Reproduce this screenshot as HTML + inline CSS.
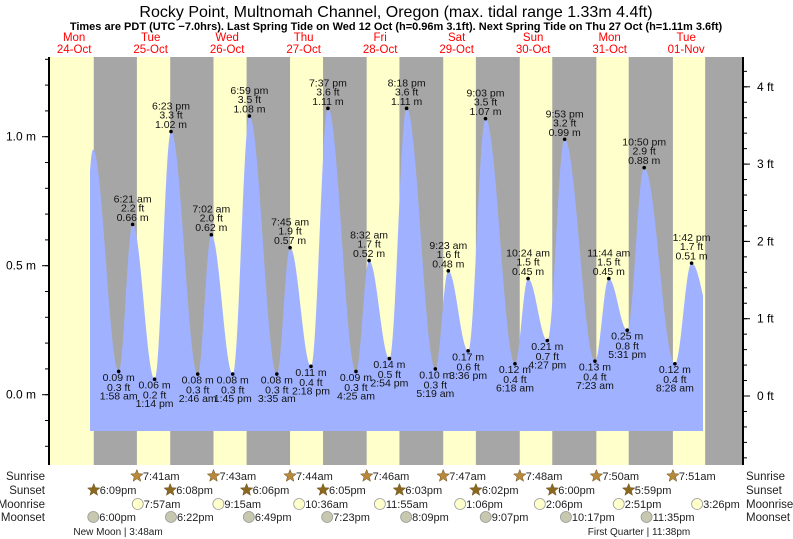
<!DOCTYPE html>
<html><head><meta charset="utf-8"><style>
html,body{margin:0;padding:0;background:#fff;}
svg{display:block;font-family:"Liberation Sans",sans-serif;}
</style></head><body>
<svg id="c" width="793" height="539" viewBox="0 0 793 539" xmlns="http://www.w3.org/2000/svg">
<text x="396" y="17" text-anchor="middle" font-size="16">Rocky Point, Multnomah Channel, Oregon (max. tidal range 1.33m 4.4ft)</text>
<text x="396" y="30" text-anchor="middle" font-size="11" font-weight="bold">Times are PDT (UTC −7.0hrs). Last Spring Tide on Wed 12 Oct (h=0.96m 3.1ft). Next Spring Tide on Thu 27 Oct (h=1.11m 3.6ft)</text>
<g id="bg"></g><g id="fill"></g><g id="axes"></g><g id="labels"></g><g id="bottom"></g>
<text x="118" y="535" text-anchor="middle" font-size="10" fill="#222">New Moon | 3:48am</text>
<text x="639" y="535" text-anchor="middle" font-size="10" fill="#222">First Quarter | 11:38pm</text>
</svg>
<script>
// ---- data ----
const dayNames = ["Mon","Tue","Wed","Thu","Fri","Sat","Sun","Mon","Tue"];
const dayDates = ["24-Oct","25-Oct","26-Oct","27-Oct","28-Oct","29-Oct","30-Oct","31-Oct","01-Nov"];
const tideDays = [1,1,1,1, 2,2,2,2, 3,3,3,3, 4,4,4,4, 5,5,5,5, 6,6,6,6, 7,7,7,7, 8,8];
const tideTimes = ["1:58 am","6:21 am","1:14 pm","6:23 pm","2:46 am","7:02 am","1:45 pm","6:59 pm","3:35 am","7:45 am","2:18 pm","7:37 pm","4:25 am","8:32 am","2:54 pm","8:18 pm","5:19 am","9:23 am","3:36 pm","9:03 pm","6:18 am","10:24 am","4:27 pm","9:53 pm","7:23 am","11:44 am","5:31 pm","10:50 pm","8:28 am","1:42 pm"];
const tideHeights = [0.09,0.66,0.06,1.02,0.08,0.62,0.08,1.08,0.08,0.57,0.11,1.11,0.09,0.52,0.14,1.11,0.10,0.48,0.17,1.07,0.12,0.45,0.21,0.99,0.13,0.45,0.25,0.88,0.12,0.51];
const tideFeet = ["0.3","2.2","0.2","3.3","0.3","2.0","0.3","3.5","0.3","1.9","0.4","3.6","0.3","1.7","0.5","3.6","0.3","1.6","0.6","3.5","0.4","1.5","0.7","3.2","0.4","1.5","0.8","2.9","0.4","1.7"];
const tideHigh = [0,1,0,1,0,1,0,1,0,1,0,1,0,1,0,1,0,1,0,1,0,1,0,1,0,1,0,1,0,1];
const sunriseTimes = ["7:40am","7:41am","7:43am","7:44am","7:46am","7:47am","7:48am","7:50am","7:51am"];
const sunsetTimes = ["6:09pm","6:08pm","6:06pm","6:05pm","6:03pm","6:02pm","6:00pm","5:59pm","5:58pm"];
const moonriseDays = [1,2,3,4,5,6,7,8];
const moonriseTimes = ["7:57am","9:15am","10:36am","11:55am","1:06pm","2:06pm","2:51pm","3:26pm"];
const moonsetDays = [0,1,2,3,4,5,6,7];
const moonsetTimes = ["6:00pm","6:22pm","6:49pm","7:23pm","8:09pm","9:07pm","10:17pm","11:35pm"];
const mTicks = [0.0,0.5,1.0];
const ftTicks = [0,1,2,3,4];

// ---- scales ----
const NS="http://www.w3.org/2000/svg";
const X0=35.9, PXD=76.5, PL=49, PR=743, PT=57, PB=465;
const xOf=t=>X0+PXD*t;
const yM=h=>394.7-258*h;
const yFt=f=>396-77.3*f;
function parseT(s){const m=s.match(/(\d+):(\d+)\s*(am|pm)/);let h=+m[1]%12;if(m[3]==="pm")h+=12;return (h+ +m[2]/60)/24;}
function el(tag,attrs,parent,txt){const e=document.createElementNS(NS,tag);for(const k in attrs)e.setAttribute(k,attrs[k]);if(txt!==undefined)e.textContent=txt;parent.appendChild(e);return e;}
const bg=document.getElementById('bg'),fillG=document.getElementById('fill'),axes=document.getElementById('axes'),lab=document.getElementById('labels'),bot=document.getElementById('bottom');

let r=el('rect',{x:PL,y:PT,width:PR-PL,height:PB-PT,fill:'#a6a6a6'},bg);


for(let d=0;d<9;d++){
  let a=Math.max(PL,xOf(d+parseT(sunriseTimes[d]))); if(d===0)a=PL;
  let b=Math.min(PR,xOf(d+parseT(sunsetTimes[d])));
  const rr=el('rect',{x:a,y:PT,width:b-a,height:PB-PT,fill:'#ffffcc'},bg);
  
  
}
for(let d=0;d<9;d++){
  const cx=xOf(d+0.5);
  const t1=el('text',{x:cx,y:41,'text-anchor':'middle','font-size':11.5,fill:'#ff0000'},lab,dayNames[d]);
  
  
  const t2=el('text',{x:cx,y:53,'text-anchor':'middle','font-size':11.5,fill:'#ff0000'},lab,dayDates[d]);
  
  
}

const pts=[{t:0.55,h:0.06},{t:0.746,h:0.95}];
for(let i=0;i<tideTimes.length;i++)pts.push({t:tideDays[i]+parseT(tideTimes[i]),h:tideHeights[i]});
pts.push({t:8.875,h:0.25},{t:9.05,h:0.9});
function hAt(t){for(let i=0;i<pts.length-1;i++){const a=pts[i],b=pts[i+1];if(t>=a.t&&t<=b.t){const f=(t-a.t)/(b.t-a.t);return a.h+(b.h-a.h)*(1-Math.cos(Math.PI*f))/2;}}return 0;}
const tS=(90-X0)/PXD, tE=(703-X0)/PXD, yBase=431;
let d=`M${xOf(tS)},${yBase}`;
for(let t=tS;t<=tE;t+=0.004)d+=` L${xOf(t).toFixed(2)},${yM(hAt(t)).toFixed(2)}`;
d+=` L${xOf(tE)},${yM(hAt(tE))} L${xOf(tE)},${yBase} Z`;
const p=el('path',{d:d,fill:'#a0b2ff'},fillG);



for(let i=0;i<tideTimes.length;i++){
  const x=xOf(tideDays[i]+parseT(tideTimes[i])),y=yM(tideHeights[i]);
  const c=el('circle',{cx:x,cy:y,r:1.8,fill:'#000'},lab);
  
  
  const lines=tideHigh[i]?[[tideTimes[i],-22],[tideFeet[i]+' ft',-13],[tideHeights[i].toFixed(2)+' m',-3.5]]:[[tideHeights[i].toFixed(2)+' m',9.5],[tideFeet[i]+' ft',19.5],[tideTimes[i],28]];
  for(const [s,dy] of lines){
    const tt=el('text',{x:x,y:y+dy,'text-anchor':'middle','font-size':10.5,fill:'#111'},lab,s);
    
    
  }
}

let ax=el('line',{x1:PL,y1:PT,x2:PL,y2:PB,stroke:'#000','stroke-width':2},axes);


ax=el('line',{x1:PR,y1:PT,x2:PR,y2:PB,stroke:'#000','stroke-width':2},axes);


for(let k=-2;k<=13;k++){const y=yM(k/10);if(y<PT||y>PB)continue;el('line',{x1:45,y1:y,x2:PL,y2:y,stroke:'#000'},axes);}
for(const m of mTicks){const y=yM(m);el('line',{x1:42,y1:y,x2:PL,y2:y,stroke:'#000'},axes);
  const t=el('text',{x:36,y:y+4,'text-anchor':'end','font-size':12},axes,m.toFixed(1)+' m');
  
  }
for(let k=-5;k<=22;k++){const y=yFt(k/5);if(y<PT||y>PB)continue;el('line',{x1:PR,y1:y,x2:PR+4,y2:y,stroke:'#000'},axes);}
for(const f of ftTicks){const y=yFt(f);el('line',{x1:PR,y1:y,x2:PR+7,y2:y,stroke:'#000'},axes);
  const t=el('text',{x:757,y:y+4,'font-size':12},axes,f+' ft');
  
  }

const rows=[["Sunrise",476],["Sunset",490],["Moonrise",504],["Moonset",517]];
for(const [n,y] of rows){
  const a=el('text',{x:45,y:y+4,'text-anchor':'end','font-size':11.5,fill:'#222'},bot,n);
  
  
  const b=el('text',{x:746,y:y+4,'font-size':11.5,fill:'#222'},bot,n);
  
  
}
function star(cx,cy,col){let s='';for(let i=0;i<10;i++){const r=i%2?2.8:6.5,a=-Math.PI/2+i*Math.PI/5;s+=(cx+r*Math.cos(a)).toFixed(1)+','+(cy+r*Math.sin(a)).toFixed(1)+' ';}
  const p=el('polygon',{points:s,fill:col,stroke:'#6a5020','stroke-width':0.5},bot);
  
  }
function item(x,y,txt,kind){
  if(kind==='rise')star(x,y,'#b8893a');else if(kind==='set')star(x,y,'#8a6820');
  else{const c=el('circle',{cx:x,cy:y,r:5.5,fill:kind==='mrise'?'#ffffcc':'#c8c8b0',stroke:'#999','stroke-width':0.8},bot);
    
    }
  const t=el('text',{x:x+6,y:y+4,'font-size':11,fill:'#222'},bot,txt);
  
  
}
for(let d=1;d<=8;d++)item(xOf(d+parseT(sunriseTimes[d])),476,sunriseTimes[d],'rise');
for(let d=0;d<=7;d++)item(xOf(d+parseT(sunsetTimes[d])),490,sunsetTimes[d],'set');
for(let i=0;i<moonriseTimes.length;i++)item(xOf(moonriseDays[i]+parseT(moonriseTimes[i])),504,moonriseTimes[i],'mrise');
for(let i=0;i<moonsetTimes.length;i++)item(xOf(moonsetDays[i]+parseT(moonsetTimes[i])),517,moonsetTimes[i],'mset');
</script>
</body></html>
